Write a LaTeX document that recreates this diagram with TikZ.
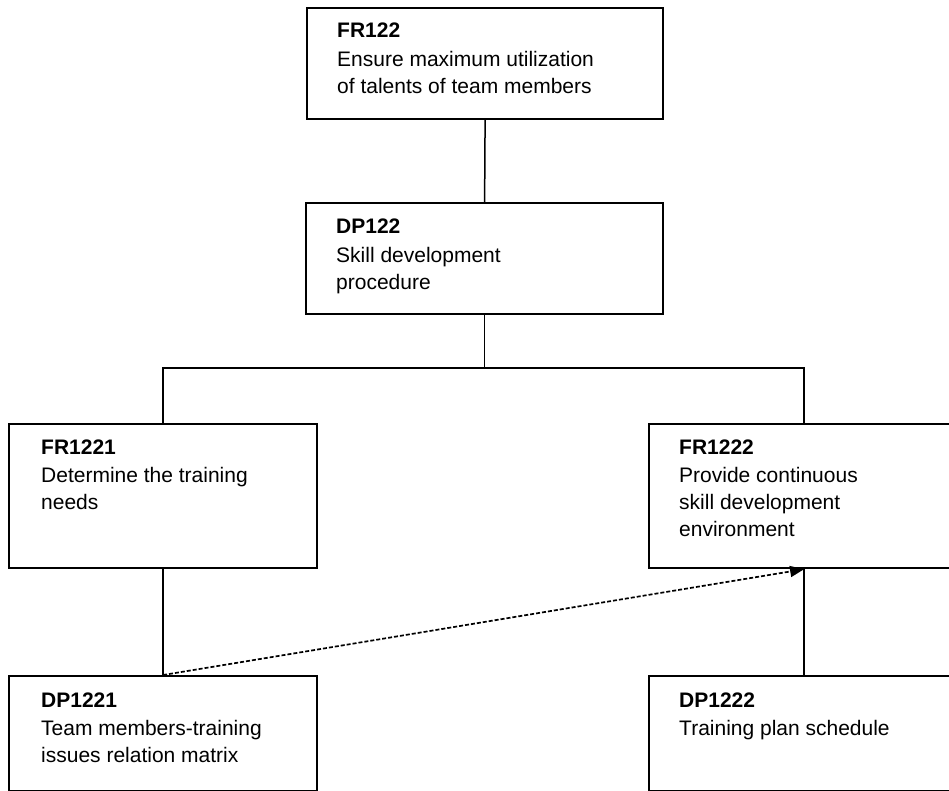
\documentclass[tikz,border=0pt]{standalone}
\usepackage{fontspec}
\setmainfont{Liberation Sans}
\usetikzlibrary{arrows.meta,calc}
\begin{document}
\begin{tikzpicture}[x=1pt,y=-1pt,
  box/.style={draw, line width=2.2pt, rectangle, inner sep=0pt, anchor=north west},
  link/.style={line width=1.5pt},
  trace/.style={line width=1.7pt, dash pattern=on 4pt off 2pt,
    -{Triangle[length=14pt,width=11pt]}},
  boxtext/.style={anchor=base west, inner sep=0pt,
    font=\fontsize{21}{27}\selectfont}]
  \clip (0,0) rectangle (949,791);
  \fill[white] (0,0) rectangle (949,791);

  % boxes
  \node[box, minimum width=356pt, minimum height=111pt] (fr122) at (306,7) {};
  \node[box, minimum width=357pt, minimum height=111pt] (dp122) at (305,202) {};
  \node[box, minimum width=308pt, minimum height=144pt] (fr1221) at (8,423) {};
  \node[box, minimum width=310pt, minimum height=144pt] (fr1222) at (648,423) {};
  \node[box, minimum width=308pt, minimum height=115pt] (dp1221) at (8,675) {};
  \node[box, minimum width=310pt, minimum height=115pt] (dp1222) at (648,675) {};

  % box texts
  \newcommand{\boxlines}[2]{\parbox[t]{290pt}{\raggedright\textbf{#1}\\[1.5pt]#2}}
  \node[boxtext] (fr122t) at ($(fr122.north west)+(31,31)$)
    {\boxlines{FR122}{Ensure maximum utilization\\of talents of team members}};
  \node[boxtext] (dp122t) at ($(dp122.north west)+(31,32)$)
    {\boxlines{DP122}{Skill development\\procedure}};
  \node[boxtext] (fr1221t) at ($(fr1221.north west)+(33,31)$)
    {\boxlines{FR1221}{Determine the training\\needs}};
  \node[boxtext] (fr1222t) at ($(fr1222.north west)+(31,31)$)
    {\boxlines{FR1222}{Provide continuous\\skill development\\environment}};
  \node[boxtext] (dp1221t) at ($(dp1221.north west)+(33,32)$)
    {\boxlines{DP1221}{Team members-training\\issues relation matrix}};
  \node[boxtext] (dp1222t) at ($(dp1222.north west)+(31,32)$)
    {\boxlines{DP1222}{Training plan schedule}};

  % tree connectors
  \coordinate (branch) at (dp122.south |- 0,368);
  \draw[link] (fr122.south) -- (dp122.north);
  \draw[link] (dp122.south) -- (branch);
  \draw[link] (fr1221.north) |- (branch) -| (fr1222.north);
  \draw[link] (fr1221.south) -- (dp1221.north);
  \draw[link] (fr1222.south) -- (dp1222.north);

  % dashed dependency
  \draw[trace] (dp1221.north) -- (fr1222.south);
\end{tikzpicture}
\end{document}
